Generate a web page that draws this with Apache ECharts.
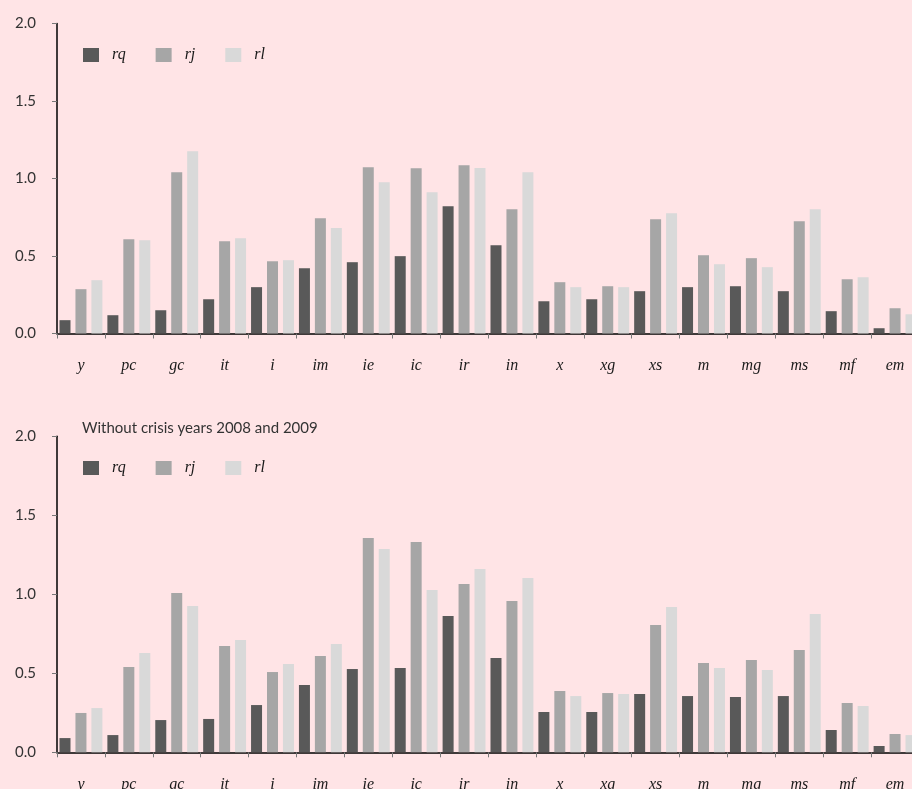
<!DOCTYPE html>
<html>
<head>
<meta charset="utf-8">
<script src="https://cdn.jsdelivr.net/npm/echarts@6/dist/echarts.min.js"></script>
<style>
  html, body { margin: 0; padding: 0; background: #ffe4e6; }
  #chart { width: 912px; height: 789px; }
</style>
</head>
<body>
<div id="chart"></div>
<script>
// Variables (x-axis categories)
const categories = ['y', 'pc', 'gc', 'it', 'i', 'im', 'ie', 'ic', 'ir', 'in', 'x', 'xg', 'xs', 'm', 'mg', 'ms', 'mf', 'em'];
const seriesNames = ['rq', 'rj', 'rl'];
const yTicks = [0, 0.5, 1.0, 1.5, 2.0];

// Full sample
const rqAll = [0.086, 0.118, 0.150, 0.221, 0.299, 0.421, 0.460, 0.499, 0.821, 0.570, 0.208, 0.221, 0.273, 0.299, 0.305, 0.273, 0.144, 0.034];
const rjAll = [0.286, 0.608, 1.040, 0.595, 0.466, 0.744, 1.073, 1.066, 1.086, 0.802, 0.331, 0.305, 0.737, 0.505, 0.486, 0.724, 0.350, 0.163];
const rlAll = [0.344, 0.602, 1.176, 0.615, 0.473, 0.680, 0.976, 0.911, 1.067, 1.041, 0.299, 0.299, 0.776, 0.447, 0.428, 0.802, 0.363, 0.124];

// Without crisis years 2008 and 2009
const rqNoCrisis = [0.090, 0.109, 0.204, 0.211, 0.299, 0.426, 0.527, 0.534, 0.863, 0.597, 0.255, 0.255, 0.369, 0.356, 0.350, 0.356, 0.141, 0.040];
const rjNoCrisis = [0.249, 0.540, 1.008, 0.673, 0.508, 0.609, 1.356, 1.331, 1.065, 0.958, 0.388, 0.375, 0.806, 0.565, 0.584, 0.647, 0.312, 0.116];
const rlNoCrisis = [0.280, 0.628, 0.926, 0.711, 0.559, 0.685, 1.287, 1.027, 1.160, 1.103, 0.356, 0.369, 0.920, 0.534, 0.521, 0.875, 0.293, 0.109];

const colors = ['#595959', '#a6a6a6', '#d9d9d9'];
const sansFont = 'Lato';
const serifFont = 'Liberation Serif';

const chart = echarts.init(document.getElementById('chart'));

function xAxisFor(gridIndex) {
  return {
    type: 'category',
    gridIndex: gridIndex,
    data: categories,
    boundaryGap: true,
    axisLine: { show: true, lineStyle: { color: '#000', width: 1.5 } },
    axisTick: { show: true, length: 5, alignWithLabel: false, lineStyle: { color: '#777' } },
    axisLabel: {
      margin: 24,
      interval: 0,
      fontFamily: serifFont,
      fontStyle: 'italic',
      fontSize: 16,
      color: '#1a1a1a'
    },
    splitLine: { show: false }
  };
}

function yAxisFor(gridIndex) {
  return {
    type: 'value',
    gridIndex: gridIndex,
    min: yTicks[0],
    max: yTicks[yTicks.length - 1],
    interval: 0.5,
    axisLine: { show: true, lineStyle: { color: '#000', width: 1.5 } },
    axisTick: { show: true, length: 5, lineStyle: { color: '#777' } },
    axisLabel: {
      margin: 21,
      fontFamily: sansFont,
      fontSize: 15,
      color: '#333',
      formatter: v => v.toFixed(1)
    },
    splitLine: { show: false }
  };
}

function barSeries(name, data, idx, gridIndex) {
  return {
    name: name,
    type: 'bar',
    xAxisIndex: gridIndex,
    yAxisIndex: gridIndex,
    data: data,
    barWidth: 11,
    barGap: '45%',
    itemStyle: { color: colors[idx] },
    emphasis: { disabled: true }
  };
}

function legendAt(top) {
  return {
    top: top,
    left: 78,
    data: seriesNames,
    icon: 'rect',
    itemWidth: 16,
    itemHeight: 14,
    itemGap: 30,
    textStyle: {
      fontFamily: serifFont,
      fontStyle: 'italic',
      fontSize: 16,
      color: '#1a1a1a',
      padding: [0, 0, 0, 8]
    }
  };
}

chart.setOption({
  backgroundColor: '#ffe4e6',
  animation: false,
  title: {
    text: 'Without crisis years 2008 and 2009',
    left: 77,
    top: 416,
    textStyle: { fontFamily: sansFont, fontSize: 15, fontWeight: 'normal', color: '#333' }
  },
  legend: [legendAt(42), legendAt(455)],
  grid: [
    { left: 57, right: -7, top: 23.5, height: 310, outerBoundsMode: 'none', containLabel: false },
    { left: 57, right: -7, top: 436.3, height: 316, outerBoundsMode: 'none', containLabel: false }
  ],
  xAxis: [xAxisFor(0), xAxisFor(1)],
  yAxis: [yAxisFor(0), yAxisFor(1)],
  series: [
    barSeries('rq', rqAll, 0, 0),
    barSeries('rj', rjAll, 1, 0),
    barSeries('rl', rlAll, 2, 0),
    barSeries('rq', rqNoCrisis, 0, 1),
    barSeries('rj', rjNoCrisis, 1, 1),
    barSeries('rl', rlNoCrisis, 2, 1)
  ]
});
</script>
</body>
</html>
